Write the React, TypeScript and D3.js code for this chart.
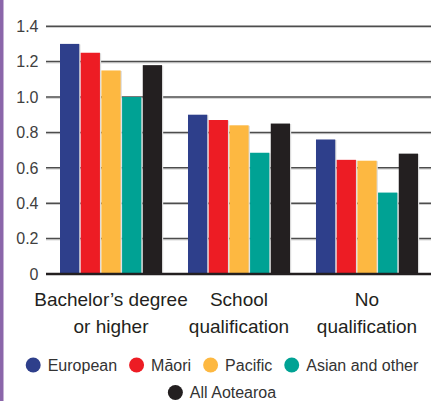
import React, { useEffect, useRef } from 'react';
import * as d3 from 'd3';

const W = 435;
const H = 401;

// categories (x groups), each label split in two lines
const categories = ['Bachelor', 'School', 'None'];
const categoryLines = [
  ['Bachelor’s degree', 'or higher'],
  ['School', 'qualification'],
  ['No', 'qualification'],
];

const seriesNames = ['European', 'Māori', 'Pacific', 'Asian and other', 'All Aotearoa'];
const seriesColors = ['#2e3f8b', '#ed1c24', '#fdb841', '#00a294', '#231f20'];

// values per series, in category order
const european = [1.3, 0.9, 0.76];
const maori = [1.25, 0.87, 0.645];
const pacific = [1.15, 0.84, 0.64];
const asian = [1.0, 0.685, 0.46];
const allAotearoa = [1.18, 0.85, 0.68];
const seriesValues = [european, maori, pacific, asian, allAotearoa];

const yTicks = [0, 0.2, 0.4, 0.6, 0.8, 1.0, 1.2, 1.4];

const App: React.FC = () => {
  const svgRef = useRef<SVGSVGElement | null>(null);

  useEffect(() => {
    if (!svgRef.current) return;
    const svg = d3.select(svgRef.current);
    svg.selectAll('*').remove();

    const font = '"Liberation Sans", Arial, sans-serif';

    // purple stripe on the left
    svg.append('rect').attr('x', 0).attr('y', 0).attr('width', 3.5).attr('height', H).attr('fill', '#8b66aa');

    const y = d3.scaleLinear().domain([0, 1.4]).range([274, 26.2]);
    const x0 = d3.scaleBand<string>().domain(categories).range([60, 418]).paddingInner(0.203).paddingOuter(0);
    const x1 = d3.scaleBand<string>().domain(seriesNames).range([0, x0.bandwidth()]).paddingInner(0.07);

    const gridL = 46;
    const gridR = 431;

    // gridlines (behind bars)
    const grid = svg.append('g');
    yTicks.filter(t => t > 0).forEach(t => {
      grid.append('line')
        .attr('x1', gridL).attr('x2', gridR)
        .attr('y1', y(t) + 1.3).attr('y2', y(t) + 1.3)
        .attr('stroke', '#cfcfcf').attr('stroke-width', 1);
      grid.append('line')
        .attr('x1', gridL).attr('x2', gridR)
        .attr('y1', y(t)).attr('y2', y(t))
        .attr('stroke', '#4d4d4d').attr('stroke-width', 1.5);
    });

    // y tick labels
    svg.append('g').selectAll('text')
      .data(yTicks)
      .enter().append('text')
      .attr('x', 38.5)
      .attr('y', d => y(d))
      .attr('dy', '0.36em')
      .attr('text-anchor', 'end')
      .attr('font-family', font)
      .attr('font-size', 16)
      .attr('fill', '#404040')
      .text(d => (d === 0 ? '0' : d.toFixed(1)));

    // bars
    const groups = svg.append('g').selectAll('g')
      .data(categories)
      .enter().append('g')
      .attr('transform', d => `translate(${x0(d)},0)`);

    groups.each(function (cat, ci) {
      const g = d3.select(this);
      seriesNames.forEach((s, si) => {
        const v = seriesValues[si][ci];
        const bx = x1(s) || 0;
        g.append('rect')
          .attr('x', bx + 1.2)
          .attr('y', y(v) + 0.5)
          .attr('width', x1.bandwidth())
          .attr('height', y(0) - y(v))
          .attr('fill', '#dcdcdc');
        g.append('rect')
          .attr('x', bx)
          .attr('y', y(v))
          .attr('width', x1.bandwidth())
          .attr('height', y(0) - y(v))
          .attr('fill', seriesColors[si]);
      });
    });

    // baseline
    svg.append('line')
      .attr('x1', gridL).attr('x2', gridR)
      .attr('y1', y(0)).attr('y2', y(0))
      .attr('stroke', '#231f20').attr('stroke-width', 2.5);

    // category labels
    const labels = svg.append('g');
    categories.forEach((c, i) => {
      const cx = (x0(c) || 0) + x0.bandwidth() / 2;
      categoryLines[i].forEach((line, li) => {
        labels.append('text')
          .attr('x', cx)
          .attr('y', 306 + li * 27)
          .attr('text-anchor', 'middle')
          .attr('font-family', font)
          .attr('font-size', 19)
          .attr('fill', '#231f20')
          .text(line);
      });
    });

    // legend, two centred rows
    const legendRows = [[0, 1, 2, 3], [4]];
    const legendCx = 222;
    const rowY = [365, 392.5];
    const r = 7.5;
    const textGap = 7;
    const itemGap = 12;
    legendRows.forEach((row, ri) => {
      const g = svg.append('g');
      let cursor = 0;
      row.forEach((si, k) => {
        if (k > 0) cursor += itemGap;
        g.append('circle')
          .attr('cx', cursor + r)
          .attr('cy', rowY[ri])
          .attr('r', r)
          .attr('fill', seriesColors[si]);
        cursor += 2 * r + textGap;
        const t = g.append('text')
          .attr('x', cursor)
          .attr('y', rowY[ri])
          .attr('dy', '0.36em')
          .attr('font-family', font)
          .attr('font-size', 16)
          .attr('fill', '#333333')
          .text(seriesNames[si]);
        cursor += (t.node() as SVGTextElement).getComputedTextLength();
      });
      g.attr('transform', `translate(${legendCx - cursor / 2},0)`);
    });
  }, []);

  return (
    <svg
      ref={svgRef}
      width={W}
      height={H}
      style={{ position: 'absolute', left: 0, top: 0, background: '#ffffff' }}
    />
  );
};

export default App;
